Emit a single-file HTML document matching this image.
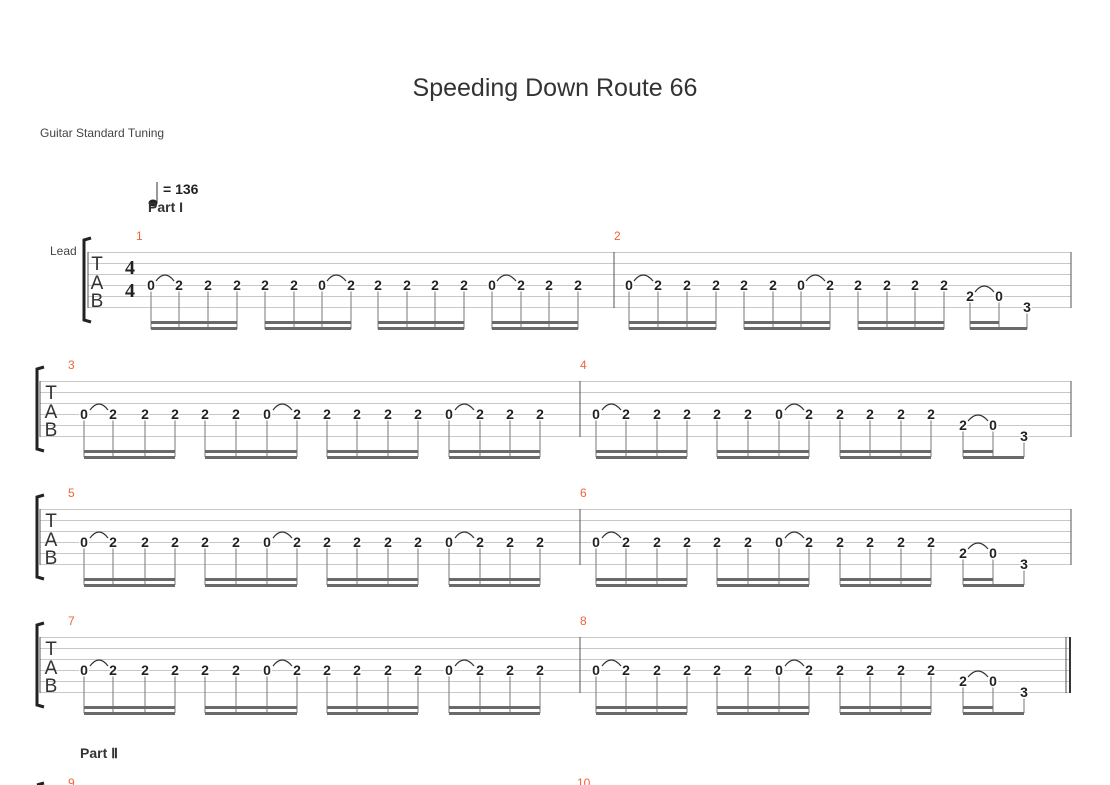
<!DOCTYPE html>
<html><head><meta charset="utf-8"><style>
html,body{margin:0;padding:0;background:#fff;}
svg{display:block;font-family:"Liberation Sans",sans-serif;}
.l{stroke:#c8c8c8;stroke-width:1;}
.st{stroke:#777;stroke-width:1;fill:none}
.bm{fill:#6a6a6a}
.d{font-size:14px;font-weight:bold;fill:#222;text-anchor:middle;stroke:#fff;stroke-width:3px;paint-order:stroke}
.tie{fill:none;stroke:#333;stroke-width:1.2}
.mn{fill:#f0643c;font-size:12px}
.tab{font-size:19px;fill:#333;text-anchor:middle}
.br{fill:none;stroke:#222;stroke-width:3}
</style></head><body>
<svg width="1110" height="785" viewBox="0 0 1110 785" xmlns="http://www.w3.org/2000/svg">
<text x="555" y="96" text-anchor="middle" font-size="25" fill="#333">Speeding Down Route 66</text>
<text x="40" y="137" font-size="12" fill="#444">Guitar Standard Tuning</text>
<line x1="157" y1="182" x2="157" y2="203" stroke="#333" stroke-width="1"/>
<ellipse cx="153" cy="203" rx="4.5" ry="3.5" fill="#222"/>
<text x="163" y="194" font-size="14" font-weight="bold" fill="#222">= 136</text>
<text x="148" y="212" font-size="14" font-weight="bold" fill="#333">Part I</text>
<text x="50" y="255" font-size="12" fill="#444">Lead</text>

<!-- STAFF 1 -->
<g transform="translate(0,252)">
<path class="l" d="M88,0.5H1071M88,11.5H1071M88,22.5H1071M88,33.5H1071M88,44.5H1071M88,55.5H1071"/>
<path d="M88,0V56M614,0V56M1071,0V56" stroke="#555" stroke-width="1"/>
<path class="br" d="M91,-14 L84,-12 V68 L91,70"/>
<text class="tab" x="97" y="18">T</text><text class="tab" x="97" y="37">A</text><text class="tab" x="97" y="55">B</text>
<text x="130" y="22" font-size="20" font-weight="bold" text-anchor="middle" fill="#222" font-family="Liberation Serif,serif">4</text>
<text x="130" y="45" font-size="20" font-weight="bold" text-anchor="middle" fill="#222" font-family="Liberation Serif,serif">4</text>
<text class="mn" x="136" y="-12">1</text><text class="mn" x="614" y="-12">2</text>
<path class="st" d="M151,38V77M179,38V77M208,38V77M237,38V77M265,38V77M294,38V77M322,38V77M351,38V77M378,38V77M407,38V77M435,38V77M464,38V77M492,38V77M521,38V77M549,38V77M578,38V77M629,38V77M658,38V77M687,38V77M716,38V77M744,38V77M773,38V77M801,38V77M830,38V77M858,38V77M887,38V77M915,38V77M944,38V77M970,48V77M999,48V77M1027,60V77"/>
<path class="bm" d="M151,69h86v3h-86zM151,75h86v3h-86zM265,69h86v3h-86zM265,75h86v3h-86zM378,69h86v3h-86zM378,75h86v3h-86zM492,69h86v3h-86zM492,75h86v3h-86zM629,69h87v3h-87zM629,75h87v3h-87zM744,69h86v3h-86zM744,75h86v3h-86zM858,69h86v3h-86zM858,75h86v3h-86zM970,69h29v3h-29zM970,75h57v3h-57z"/>
<path class="tie" d="M156,29Q165,17 174,29M327,29Q336,17 346,29M497,29Q506,17 516,29M634,29Q643,17 653,29M806,29Q815,17 825,29M975,40Q984,28 994,40"/>
<text class="d" x="151 179 208 237 265 294 322 351 378 407 435 464 492 521 549 578 629 658 687 716 744 773 801 830 858 887 915 944" y="38">0222220222220222022222022222</text>
<text class="d" x="970 999" y="49">20</text>
<text class="d" x="1027" y="60">3</text>
</g>

<defs>
<g id="sys">
<path class="l" d="M40,0.5H1071M40,11.5H1071M40,22.5H1071M40,33.5H1071M40,44.5H1071M40,55.5H1071"/>
<path d="M40,0V56M580,0V56" stroke="#555" stroke-width="1"/>
<path class="br" d="M44,-14 L37,-12 V68 L44,70"/>
<text class="tab" x="51" y="18">T</text><text class="tab" x="51" y="37">A</text><text class="tab" x="51" y="55">B</text>
<path class="st" d="M84,38V76M113,38V76M145,38V76M175,38V76M205,38V76M236,38V76M267,38V76M297,38V76M327,38V76M357,38V76M388,38V76M418,38V76M449,38V76M480,38V76M510,38V76M540,38V76M596,38V76M626,38V76M657,38V76M687,38V76M717,38V76M748,38V76M779,38V76M809,38V76M840,38V76M870,38V76M901,38V76M931,38V76M963,48V76M993,48V76M1024,60V76"/>
<path class="bm" d="M84,69h91v3h-91zM84,75h91v3h-91zM205,69h92v3h-92zM205,75h92v3h-92zM327,69h91v3h-91zM327,75h91v3h-91zM449,69h91v3h-91zM449,75h91v3h-91zM596,69h91v3h-91zM596,75h91v3h-91zM717,69h92v3h-92zM717,75h92v3h-92zM840,69h91v3h-91zM840,75h91v3h-91zM963,69h30v3h-30zM963,75h61v3h-61z"/>
<path class="tie" d="M90,29Q99,17 108,29M273,29Q282,17 292,29M455,29Q464,17 474,29M602,29Q611,17 621,29M785,29Q794,17 804,29M968,40Q978,28 988,40"/>
<text class="d" x="84 113 145 175 205 236 267 297 327 357 388 418 449 480 510 540 596 626 657 687 717 748 779 809 840 870 901 931" y="38">0222220222220222022222022222</text>
<text class="d" x="963 993" y="49">20</text>
<text class="d" x="1024" y="60">3</text>
</g>
</defs>

<g transform="translate(0,381)"><use href="#sys"/><path d="M1071,0V56" stroke="#555"/>
<text class="mn" x="68" y="-12">3</text><text class="mn" x="580" y="-12">4</text></g>
<g transform="translate(0,509)"><use href="#sys"/><path d="M1071,0V56" stroke="#555"/>
<text class="mn" x="68" y="-12">5</text><text class="mn" x="580" y="-12">6</text></g>
<g transform="translate(0,637)"><use href="#sys"/><path d="M1066,0V56" stroke="#555"/><path d="M1070,0V56" stroke="#333" stroke-width="2"/>
<text class="mn" x="68" y="-12">7</text><text class="mn" x="580" y="-12">8</text></g>

<text x="80" y="758" font-size="14" font-weight="bold" fill="#333">Part Ⅱ</text>
<text class="mn" x="68" y="787">9</text><text class="mn" x="577" y="787">10</text>
<path class="br" d="M44,783 L37,785"/>
</svg>
</body></html>
